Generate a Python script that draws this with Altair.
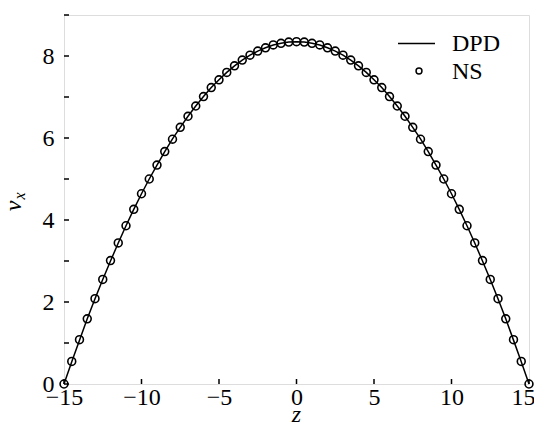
import altair as alt
import pandas as pd

# NS data points (z, v_x)
z_ns = [-15.0, -14.5, -14.0, -13.5, -13.0, -12.5, -12.0, -11.5, -11.0, -10.5,
        -10.0, -9.5, -9.0, -8.5, -8.0, -7.5, -7.0, -6.5, -6.0, -5.5,
        -5.0, -4.5, -4.0, -3.5, -3.0, -2.5, -2.0, -1.5, -1.0, -0.5,
        0.0, 0.5, 1.0, 1.5, 2.0, 2.5, 3.0, 3.5, 4.0, 4.5,
        5.0, 5.5, 6.0, 6.5, 7.0, 7.5, 8.0, 8.5, 9.0, 9.5,
        10.0, 10.5, 11.0, 11.5, 12.0, 12.5, 13.0, 13.5, 14.0, 14.5, 15.0]
v_ns = [0.00, 0.55, 1.08, 1.59, 2.08, 2.55, 3.01, 3.44, 3.86, 4.26,
        4.64, 5.00, 5.34, 5.67, 5.97, 6.26, 6.53, 6.78, 7.01, 7.23,
        7.42, 7.60, 7.76, 7.90, 8.02, 8.12, 8.20, 8.27, 8.31, 8.34,
        8.35, 8.34, 8.31, 8.27, 8.20, 8.12, 8.02, 7.90, 7.76, 7.60,
        7.42, 7.23, 7.01, 6.78, 6.53, 6.26, 5.97, 5.67, 5.34, 5.00,
        4.64, 4.26, 3.86, 3.44, 3.01, 2.55, 2.08, 1.59, 1.08, 0.55, 0.00]

# DPD profile (line)
z_dpd = list(z_ns)
v_dpd = [0.00, 0.54, 1.07, 1.59, 2.08, 2.55, 3.00, 3.44, 3.86, 4.26,
         4.64, 5.00, 5.34, 5.67, 5.98, 6.26, 6.53, 6.78, 7.01, 7.23,
         7.42, 7.60, 7.76, 7.90, 8.02, 8.12, 8.20, 8.27, 8.31, 8.34,
         8.35, 8.34, 8.31, 8.27, 8.20, 8.12, 8.02, 7.90, 7.76, 7.60,
         7.42, 7.23, 7.01, 6.78, 6.53, 6.26, 5.98, 5.67, 5.34, 5.00,
         4.64, 4.26, 3.86, 3.44, 3.00, 2.55, 2.08, 1.59, 1.07, 0.54, 0.00]

x_ticks = [-15, -10, -5, 0, 5, 10, 15]
y_labels = [0, 2, 4, 6, 8]
y_ticks = [0, 1, 2, 3, 4, 5, 6, 7, 8, 9]

FONT = "Liberation Serif"
W, H = 465, 369

df_ns = pd.DataFrame({"z": z_ns, "v": v_ns})
df_dpd = pd.DataFrame({"z": z_dpd, "v": v_dpd})

xscale = alt.Scale(domain=[-15, 15], nice=False, zero=False)
yscale = alt.Scale(domain=[0, 9], nice=False)

xaxis = alt.Axis(values=x_ticks, title=None, ticks=False, domain=False, grid=False,
                 labelFlush=False, labelPadding=1, labelFontSize=24, labelFont=FONT,
                 labelColor="black", format="d",
                 labelOffset={"condition": {"test": "datum.value === 15", "value": -6},
                              "value": 0})
yaxis = alt.Axis(values=y_labels, title=None, ticks=False, domain=False, grid=False,
                 labelFlush=False, labelPadding=10, labelFontSize=24, labelFont=FONT,
                 labelColor="black", format="d")

line = alt.Chart(df_dpd).mark_line(color="black", strokeWidth=1.5).encode(
    x=alt.X("z:Q", scale=xscale, axis=xaxis),
    y=alt.Y("v:Q", scale=yscale, axis=yaxis),
)

points = alt.Chart(df_ns).mark_point(shape="circle", filled=False, color="black",
                                     size=62, strokeWidth=1.6, opacity=1).encode(
    x=alt.X("z:Q"),
    y=alt.Y("v:Q"),
)

xt = alt.Chart(pd.DataFrame({"z": x_ticks})).mark_rule(color="black", strokeWidth=1.5).encode(
    x=alt.X("z:Q"), y=alt.value(H), y2=alt.value(H - 5)
)
yt = alt.Chart(pd.DataFrame({"v": y_ticks})).mark_rule(color="black", strokeWidth=1.5).encode(
    y=alt.Y("v:Q"), x=alt.value(0), x2=alt.value(5)
)

one = pd.DataFrame({"a": [0]})

def txt(s, x, y, size=24, style="normal", angle=0, align="center", baseline="middle"):
    return alt.Chart(one).mark_text(font=FONT, fontSize=size, fontStyle=style, angle=angle,
                                    align=align, baseline=baseline, color="black").encode(
        x=alt.value(x), y=alt.value(y), text=alt.value(s))

xtitle = txt("z", W / 2, 407, style="italic", baseline="alphabetic")
ytitle_v = txt("v", -50, 191, style="italic", angle=270)
ytitle_x = txt("x", -44, 181, size=16, style="italic", angle=270)

leg_line = alt.Chart(one).mark_rule(color="black", strokeWidth=1.5).encode(
    x=alt.value(334), x2=alt.value(371), y=alt.value(28.5))
leg_pt = alt.Chart(one).mark_point(shape="circle", filled=False, color="black",
                                   size=35, strokeWidth=1.5, opacity=1).encode(
    x=alt.value(355), y=alt.value(56))
leg_t1 = txt("DPD", 388, 29, align="left")
leg_t2 = txt("NS", 388, 57, align="left")

chart = alt.layer(line, points, xt, yt, xtitle, ytitle_v, ytitle_x,
                  leg_line, leg_pt, leg_t1, leg_t2).properties(
    width=W, height=H,
    autosize=alt.AutoSizeParams(type="none"),
    padding={"left": 56, "top": 7, "right": 5, "bottom": 38},
).configure_view(stroke="black", strokeWidth=1.5).configure(background="white")

chart.save("out.html", embed_options={"renderer": "svg", "actions": False})
